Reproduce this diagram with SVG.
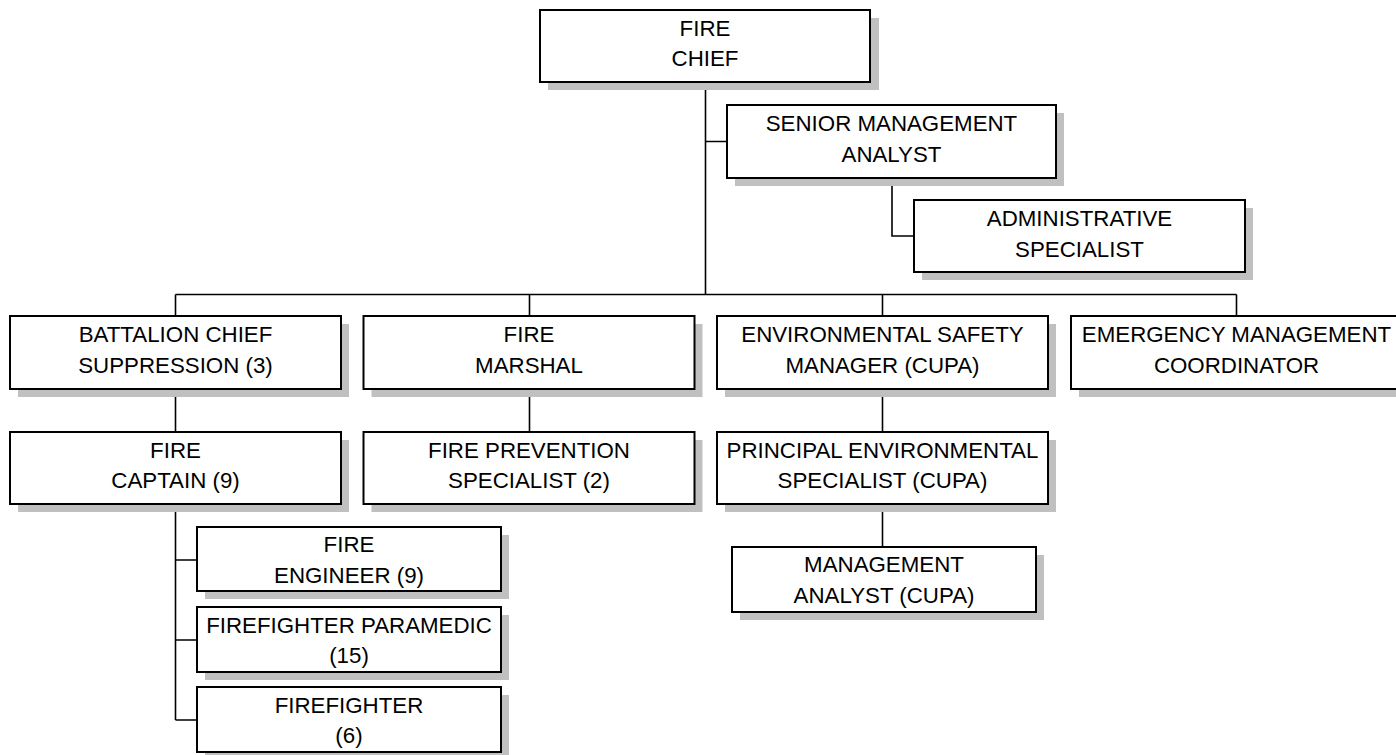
<svg xmlns="http://www.w3.org/2000/svg" width="1396" height="755" viewBox="0 0 1396 755">
<style>
.sh{fill:#c0c0c0;stroke:none}
.bx{fill:#fff;stroke:#000;stroke-width:2}
.t{font-family:"Liberation Sans",Arial,sans-serif;font-size:22.3px;fill:#000;text-anchor:middle}
.ln{stroke:#000;stroke-width:1.6;fill:none}
</style>
<rect width="1396" height="755" fill="#fff"/>
<g id="connectors">
<path class="ln" d="M705.5 82V294.5M705.5 141.5H727M892 178V236H914"/>
<path class="ln" d="M175.5 294.5H1236.5M175.5 294.5V316M529.5 294.5V316M882.5 294.5V316M1236.5 294.5V316"/>
<path class="ln" d="M175.5 389V432M529.5 389V432M882.5 389V432M882.5 504V547"/>
<path class="ln" d="M175.5 504V720M175.5 560H197M175.5 640H197M175.5 720H197"/>
</g>
<g id="fire-chief"><rect class="sh" x="548" y="18" width="331" height="72"/><rect class="bx" x="540" y="10" width="330" height="72"/><text class="t" x="705" y="35.5">FIRE</text><text class="t" x="705" y="66">CHIEF</text></g>
<g id="senior-management-analyst"><rect class="sh" x="735" y="113" width="329" height="73"/><rect class="bx" x="727" y="105" width="329" height="73"/><text class="t" x="891.5" y="131">SENIOR MANAGEMENT</text><text class="t" x="891.5" y="161.5">ANALYST</text></g>
<g id="administrative-specialist"><rect class="sh" x="922" y="208" width="331" height="72"/><rect class="bx" x="914" y="200" width="331" height="72"/><text class="t" x="1079.5" y="226">ADMINISTRATIVE</text><text class="t" x="1079.5" y="256.5">SPECIALIST</text></g>
<g id="battalion-chief"><rect class="sh" x="18" y="324" width="331" height="73"/><rect class="bx" x="10" y="316" width="331" height="73"/><text class="t" x="175.5" y="342">BATTALION CHIEF</text><text class="t" x="175.5" y="372.5">SUPPRESSION (3)</text></g>
<g id="fire-marshal"><rect class="sh" x="371.5" y="324" width="331" height="73"/><rect class="bx" x="363.5" y="316" width="331" height="73"/><text class="t" x="529" y="342">FIRE</text><text class="t" x="529" y="372.5">MARSHAL</text></g>
<g id="environmental-safety-manager"><rect class="sh" x="725" y="324" width="331" height="73"/><rect class="bx" x="717" y="316" width="331" height="73"/><text class="t" x="882.5" y="342">ENVIRONMENTAL SAFETY</text><text class="t" x="882.5" y="372.5">MANAGER (CUPA)</text></g>
<g id="emergency-management-coordinator"><rect class="sh" x="1079" y="324" width="331" height="73"/><rect class="bx" x="1071" y="316" width="331" height="73"/><text class="t" x="1236.5" y="342">EMERGENCY MANAGEMENT</text><text class="t" x="1236.5" y="372.5">COORDINATOR</text></g>
<g id="fire-captain"><rect class="sh" x="18" y="440" width="331" height="72"/><rect class="bx" x="10" y="432" width="331" height="72"/><text class="t" x="175.5" y="458">FIRE</text><text class="t" x="175.5" y="488">CAPTAIN (9)</text></g>
<g id="fire-prevention-specialist"><rect class="sh" x="371.5" y="440" width="331" height="72"/><rect class="bx" x="363.5" y="432" width="331" height="72"/><text class="t" x="529" y="458">FIRE PREVENTION</text><text class="t" x="529" y="488">SPECIALIST (2)</text></g>
<g id="principal-environmental-specialist"><rect class="sh" x="725" y="440" width="331" height="72"/><rect class="bx" x="717" y="432" width="331" height="72"/><text class="t" x="882.5" y="458">PRINCIPAL ENVIRONMENTAL</text><text class="t" x="882.5" y="488">SPECIALIST (CUPA)</text></g>
<g id="management-analyst"><rect class="sh" x="740" y="555" width="304" height="65"/><rect class="bx" x="732" y="547" width="304" height="65"/><text class="t" x="884" y="572">MANAGEMENT</text><text class="t" x="884" y="603">ANALYST (CUPA)</text></g>
<g id="fire-engineer"><rect class="sh" x="205" y="535" width="304" height="64"/><rect class="bx" x="197" y="527" width="304" height="64"/><text class="t" x="349" y="552">FIRE</text><text class="t" x="349" y="582.5">ENGINEER (9)</text></g>
<g id="firefighter-paramedic"><rect class="sh" x="205" y="615" width="304" height="65"/><rect class="bx" x="197" y="607" width="304" height="65"/><text class="t" x="349" y="632.5">FIREFIGHTER PARAMEDIC</text><text class="t" x="349" y="663">(15)</text></g>
<g id="firefighter"><rect class="sh" x="205" y="695" width="304" height="65"/><rect class="bx" x="197" y="687" width="304" height="65"/><text class="t" x="349" y="712.5">FIREFIGHTER</text><text class="t" x="349" y="743">(6)</text></g>
</svg>
